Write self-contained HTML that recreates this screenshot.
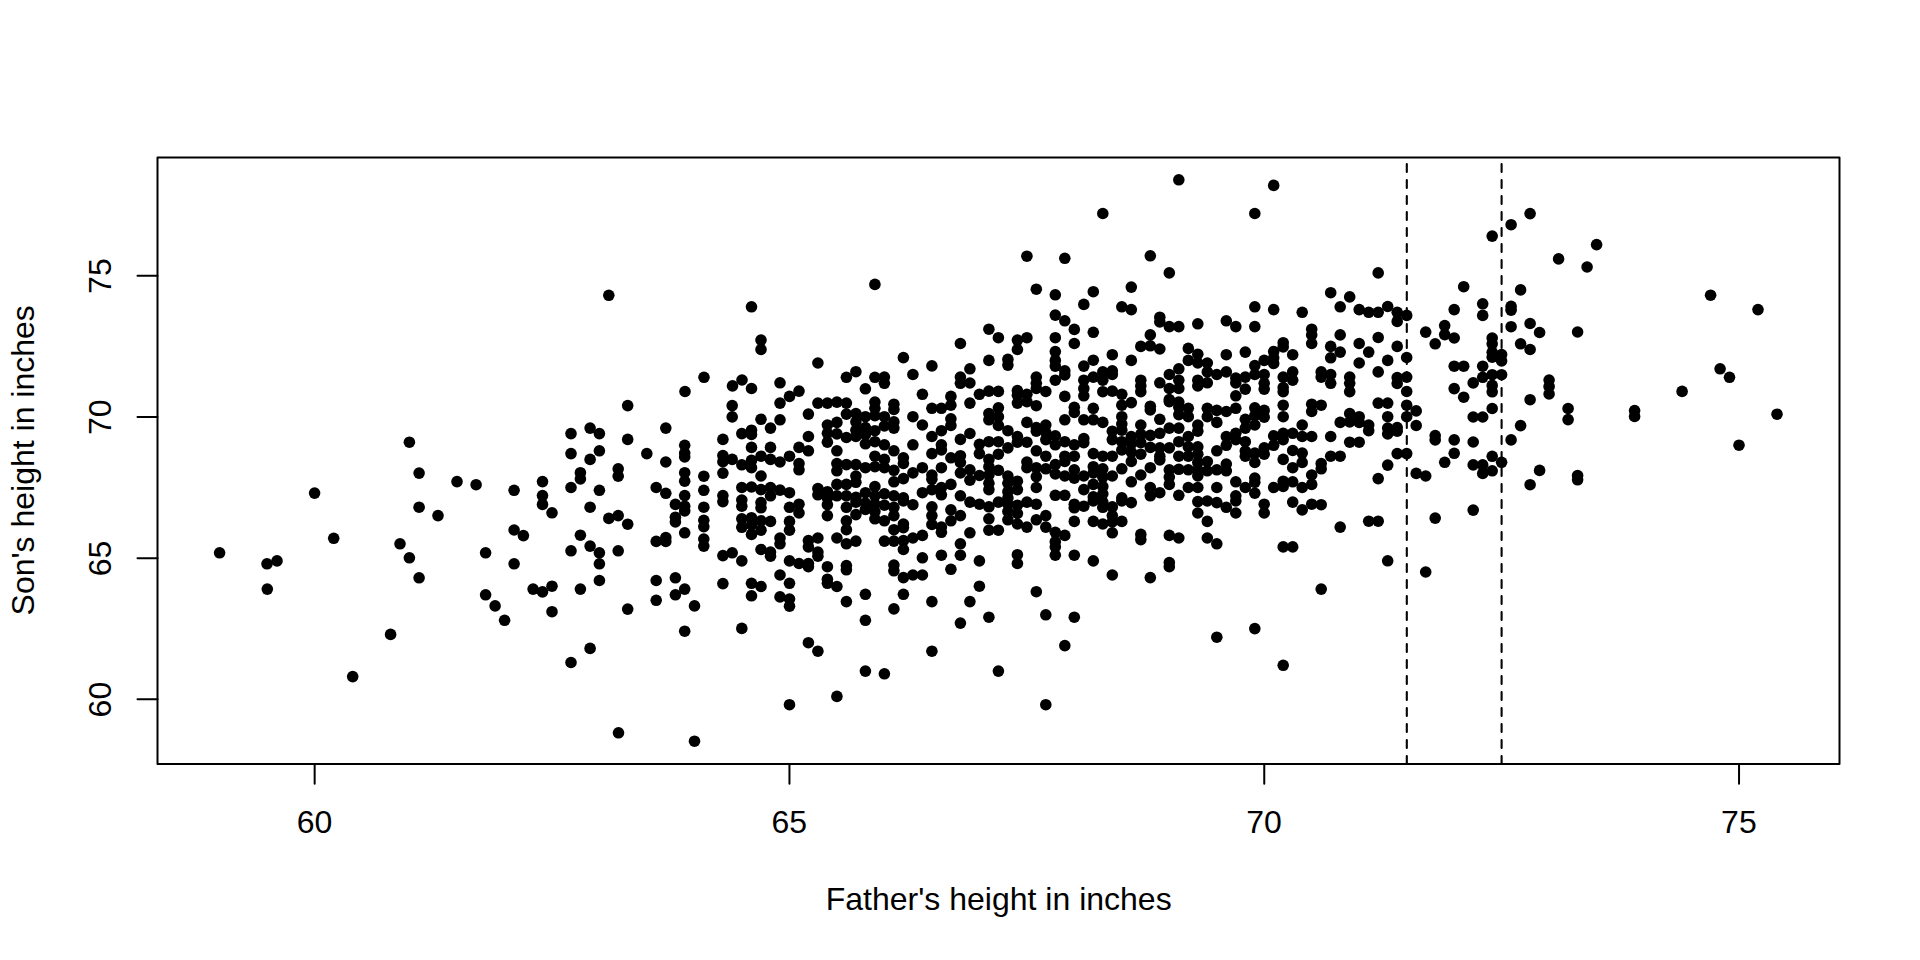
<!DOCTYPE html>
<html><head><meta charset="utf-8"><style>
html,body{margin:0;padding:0;background:#fff;}
svg{display:block;}
text{font-family:"Liberation Sans",sans-serif;font-size:32px;fill:#000;}
</style></head><body>
<svg width="1920" height="960" viewBox="0 0 1920 960">
<rect x="0" y="0" width="1920" height="960" fill="#fff"/>
<g stroke="#000" stroke-width="1.8" fill="none">
<rect x="157.5" y="157.4" width="1682" height="606.6" stroke-width="2" stroke-linejoin="round"/>
<path d="M314.66 764V783.8M789.45 764V783.8M1264.25 764V783.8M1739.04 764V783.8" stroke-width="2" stroke-linecap="round"/>
<path d="M157.5 275.8H137.5M157.5 416.97H137.5M157.5 558.13H137.5M157.5 699.3H137.5" stroke-width="2" stroke-linecap="round"/>
<path d="M1406.8 764V157.4M1501.6 764V157.4" stroke-width="2.1" stroke-dasharray="8 8" stroke-linecap="round"/>
</g>
<g text-anchor="middle">
<text x="314.5" y="833" font-size="32.6">60</text>
<text x="789.3" y="833" font-size="32.6">65</text>
<text x="1264.1" y="833" font-size="32.6">70</text>
<text x="1738.9" y="833" font-size="32.6">75</text>
<text x="998.7" y="910" font-size="32.2">Father's height in inches</text>
<text transform="translate(110.8,276.1) rotate(-90)" font-size="32.6">75</text>
<text transform="translate(110.8,417.2) rotate(-90)" font-size="32.6">70</text>
<text transform="translate(110.8,558.4) rotate(-90)" font-size="32.6">65</text>
<text transform="translate(110.8,699.6) rotate(-90)" font-size="32.6">60</text>
<text transform="translate(34.4,460.3) rotate(-90)" font-size="32.3">Son's height in inches</text>
</g>
<g fill="#000"><circle cx="608.8" cy="295.3" r="5.8"/><circle cx="409.4" cy="442.2" r="5.8"/><circle cx="419.1" cy="473.1" r="5.8"/><circle cx="314.6" cy="493.1" r="5.8"/><circle cx="419.1" cy="507.2" r="5.8"/><circle cx="438.0" cy="515.6" r="5.8"/><circle cx="333.7" cy="538.3" r="5.8"/><circle cx="400.0" cy="543.8" r="5.8"/><circle cx="219.6" cy="552.8" r="5.8"/><circle cx="267.0" cy="563.8" r="5.8"/><circle cx="277.0" cy="560.9" r="5.8"/><circle cx="267.3" cy="589.1" r="5.8"/><circle cx="409.4" cy="557.8" r="5.8"/><circle cx="419.1" cy="577.8" r="5.8"/><circle cx="390.6" cy="634.4" r="5.8"/><circle cx="352.7" cy="676.6" r="5.8"/><circle cx="457.0" cy="481.6" r="5.8"/><circle cx="476.1" cy="484.7" r="5.8"/><circle cx="514.1" cy="490.3" r="5.8"/><circle cx="514.1" cy="530.0" r="5.8"/><circle cx="523.4" cy="535.6" r="5.8"/><circle cx="542.5" cy="481.6" r="5.8"/><circle cx="542.5" cy="495.6" r="5.8"/><circle cx="542.5" cy="504.4" r="5.8"/><circle cx="552.0" cy="512.8" r="5.8"/><circle cx="571.0" cy="433.6" r="5.8"/><circle cx="571.0" cy="453.6" r="5.8"/><circle cx="571.0" cy="487.5" r="5.8"/><circle cx="580.4" cy="472.7" r="5.8"/><circle cx="580.4" cy="478.9" r="5.8"/><circle cx="580.4" cy="535.2" r="5.8"/><circle cx="590.1" cy="428.1" r="5.8"/><circle cx="590.1" cy="459.4" r="5.8"/><circle cx="590.1" cy="507.2" r="5.8"/><circle cx="590.1" cy="546.1" r="5.8"/><circle cx="599.4" cy="433.6" r="5.8"/><circle cx="599.4" cy="450.8" r="5.8"/><circle cx="599.4" cy="490.3" r="5.8"/><circle cx="608.8" cy="518.4" r="5.8"/><circle cx="618.2" cy="468.8" r="5.8"/><circle cx="618.2" cy="476.2" r="5.8"/><circle cx="618.2" cy="515.6" r="5.8"/><circle cx="627.7" cy="405.6" r="5.8"/><circle cx="627.7" cy="439.4" r="5.8"/><circle cx="627.7" cy="524.2" r="5.8"/><circle cx="646.8" cy="453.6" r="5.8"/><circle cx="656.2" cy="487.5" r="5.8"/><circle cx="656.2" cy="541.4" r="5.8"/><circle cx="665.8" cy="428.1" r="5.8"/><circle cx="665.8" cy="462.0" r="5.8"/><circle cx="665.8" cy="493.3" r="5.8"/><circle cx="665.8" cy="537.5" r="5.8"/><circle cx="665.8" cy="541.4" r="5.8"/><circle cx="675.4" cy="504.4" r="5.8"/><circle cx="675.4" cy="517.2" r="5.8"/><circle cx="675.4" cy="521.9" r="5.8"/><circle cx="684.7" cy="445.3" r="5.8"/><circle cx="684.7" cy="453.1" r="5.8"/><circle cx="684.7" cy="457.0" r="5.8"/><circle cx="684.7" cy="472.7" r="5.8"/><circle cx="684.7" cy="481.2" r="5.8"/><circle cx="684.7" cy="495.6" r="5.8"/><circle cx="684.7" cy="506.2" r="5.8"/><circle cx="684.7" cy="510.9" r="5.8"/><circle cx="684.7" cy="532.8" r="5.8"/><circle cx="703.8" cy="476.2" r="5.8"/><circle cx="703.8" cy="490.3" r="5.8"/><circle cx="703.8" cy="507.2" r="5.8"/><circle cx="703.8" cy="520.3" r="5.8"/><circle cx="703.8" cy="526.6" r="5.8"/><circle cx="703.8" cy="539.1" r="5.8"/><circle cx="703.8" cy="546.1" r="5.8"/><circle cx="722.9" cy="439.4" r="5.8"/><circle cx="722.9" cy="455.5" r="5.8"/><circle cx="722.9" cy="461.7" r="5.8"/><circle cx="722.9" cy="473.1" r="5.8"/><circle cx="722.9" cy="495.6" r="5.8"/><circle cx="722.9" cy="501.6" r="5.8"/><circle cx="732.2" cy="405.6" r="5.8"/><circle cx="732.2" cy="416.9" r="5.8"/><circle cx="732.2" cy="459.4" r="5.8"/><circle cx="741.8" cy="433.6" r="5.8"/><circle cx="741.8" cy="464.8" r="5.8"/><circle cx="741.8" cy="487.5" r="5.8"/><circle cx="741.8" cy="500.0" r="5.8"/><circle cx="741.8" cy="506.2" r="5.8"/><circle cx="741.8" cy="518.8" r="5.8"/><circle cx="741.8" cy="527.3" r="5.8"/><circle cx="485.6" cy="552.8" r="5.8"/><circle cx="571.0" cy="550.8" r="5.8"/><circle cx="599.4" cy="552.8" r="5.8"/><circle cx="618.2" cy="550.8" r="5.8"/><circle cx="722.9" cy="555.6" r="5.8"/><circle cx="732.2" cy="552.8" r="5.8"/><circle cx="741.8" cy="560.9" r="5.8"/><circle cx="514.1" cy="563.8" r="5.8"/><circle cx="599.4" cy="563.8" r="5.8"/><circle cx="599.4" cy="580.5" r="5.8"/><circle cx="656.2" cy="580.5" r="5.8"/><circle cx="675.4" cy="577.8" r="5.8"/><circle cx="722.9" cy="583.6" r="5.8"/><circle cx="533.1" cy="589.1" r="5.8"/><circle cx="542.5" cy="591.9" r="5.8"/><circle cx="552.0" cy="586.2" r="5.8"/><circle cx="580.4" cy="589.1" r="5.8"/><circle cx="485.6" cy="594.8" r="5.8"/><circle cx="495.1" cy="605.9" r="5.8"/><circle cx="504.6" cy="620.3" r="5.8"/><circle cx="552.0" cy="611.7" r="5.8"/><circle cx="627.7" cy="609.1" r="5.8"/><circle cx="656.2" cy="600.3" r="5.8"/><circle cx="675.4" cy="594.8" r="5.8"/><circle cx="684.7" cy="589.1" r="5.8"/><circle cx="694.5" cy="605.9" r="5.8"/><circle cx="684.7" cy="631.2" r="5.8"/><circle cx="741.8" cy="628.4" r="5.8"/><circle cx="590.1" cy="648.4" r="5.8"/><circle cx="571.0" cy="662.5" r="5.8"/><circle cx="618.5" cy="732.8" r="5.8"/><circle cx="694.5" cy="741.2" r="5.8"/><circle cx="874.9" cy="284.4" r="5.8"/><circle cx="1026.9" cy="256.2" r="5.8"/><circle cx="1178.8" cy="179.8" r="5.8"/><circle cx="1273.7" cy="185.4" r="5.8"/><circle cx="1102.8" cy="213.5" r="5.8"/><circle cx="1254.8" cy="213.5" r="5.8"/><circle cx="1064.8" cy="258.3" r="5.8"/><circle cx="1150.3" cy="255.8" r="5.8"/><circle cx="1169.3" cy="272.9" r="5.8"/><circle cx="1378.2" cy="272.9" r="5.8"/><circle cx="1036.3" cy="289.2" r="5.8"/><circle cx="1055.3" cy="294.8" r="5.8"/><circle cx="1093.3" cy="291.7" r="5.8"/><circle cx="1131.3" cy="287.1" r="5.8"/><circle cx="1330.7" cy="292.7" r="5.8"/><circle cx="1349.7" cy="296.9" r="5.8"/><circle cx="1530.1" cy="213.6" r="5.8"/><circle cx="1511.1" cy="224.7" r="5.8"/><circle cx="1492.2" cy="236.1" r="5.8"/><circle cx="1596.6" cy="244.6" r="5.8"/><circle cx="1558.6" cy="258.9" r="5.8"/><circle cx="1587.1" cy="267.0" r="5.8"/><circle cx="1463.7" cy="286.7" r="5.8"/><circle cx="1520.6" cy="289.9" r="5.8"/><circle cx="1710.6" cy="295.2" r="5.8"/><circle cx="751.5" cy="306.8" r="5.8"/><circle cx="761.0" cy="340.1" r="5.8"/><circle cx="761.0" cy="349.5" r="5.8"/><circle cx="817.9" cy="363.0" r="5.8"/><circle cx="704.0" cy="377.3" r="5.8"/><circle cx="685.0" cy="391.5" r="5.8"/><circle cx="732.5" cy="385.9" r="5.8"/><circle cx="742.0" cy="380.0" r="5.8"/><circle cx="751.5" cy="388.5" r="5.8"/><circle cx="780.0" cy="382.8" r="5.8"/><circle cx="799.0" cy="391.1" r="5.8"/><circle cx="789.5" cy="396.4" r="5.8"/><circle cx="988.9" cy="329.2" r="5.8"/><circle cx="998.4" cy="337.7" r="5.8"/><circle cx="1026.9" cy="337.7" r="5.8"/><circle cx="1017.4" cy="340.1" r="5.8"/><circle cx="1017.4" cy="349.5" r="5.8"/><circle cx="960.4" cy="343.5" r="5.8"/><circle cx="903.4" cy="357.6" r="5.8"/><circle cx="988.9" cy="360.4" r="5.8"/><circle cx="1007.9" cy="359.4" r="5.8"/><circle cx="1007.9" cy="365.1" r="5.8"/><circle cx="855.9" cy="371.7" r="5.8"/><circle cx="846.4" cy="377.3" r="5.8"/><circle cx="874.9" cy="377.3" r="5.8"/><circle cx="884.4" cy="377.1" r="5.8"/><circle cx="884.4" cy="383.3" r="5.8"/><circle cx="865.4" cy="388.8" r="5.8"/><circle cx="912.9" cy="374.5" r="5.8"/><circle cx="931.9" cy="365.9" r="5.8"/><circle cx="969.9" cy="368.8" r="5.8"/><circle cx="960.4" cy="377.1" r="5.8"/><circle cx="960.4" cy="383.3" r="5.8"/><circle cx="969.9" cy="383.0" r="5.8"/><circle cx="922.4" cy="394.3" r="5.8"/><circle cx="950.9" cy="396.4" r="5.8"/><circle cx="979.4" cy="394.3" r="5.8"/><circle cx="988.9" cy="391.1" r="5.8"/><circle cx="998.4" cy="391.4" r="5.8"/><circle cx="1017.4" cy="390.6" r="5.8"/><circle cx="1017.4" cy="395.3" r="5.8"/><circle cx="1026.9" cy="394.3" r="5.8"/><circle cx="1083.8" cy="304.4" r="5.8"/><circle cx="1121.8" cy="306.8" r="5.8"/><circle cx="1131.3" cy="309.6" r="5.8"/><circle cx="1055.3" cy="315.1" r="5.8"/><circle cx="1064.8" cy="320.8" r="5.8"/><circle cx="1074.3" cy="329.4" r="5.8"/><circle cx="1093.3" cy="332.3" r="5.8"/><circle cx="1055.3" cy="337.7" r="5.8"/><circle cx="1074.3" cy="343.5" r="5.8"/><circle cx="1159.8" cy="317.2" r="5.8"/><circle cx="1159.8" cy="321.9" r="5.8"/><circle cx="1169.3" cy="326.6" r="5.8"/><circle cx="1178.8" cy="326.6" r="5.8"/><circle cx="1197.8" cy="323.8" r="5.8"/><circle cx="1226.3" cy="320.8" r="5.8"/><circle cx="1150.3" cy="334.9" r="5.8"/><circle cx="1140.8" cy="346.4" r="5.8"/><circle cx="1150.3" cy="345.8" r="5.8"/><circle cx="1159.8" cy="349.0" r="5.8"/><circle cx="1055.3" cy="351.6" r="5.8"/><circle cx="1055.3" cy="360.4" r="5.8"/><circle cx="1055.3" cy="366.1" r="5.8"/><circle cx="1064.8" cy="370.8" r="5.8"/><circle cx="1064.8" cy="375.0" r="5.8"/><circle cx="1055.3" cy="380.2" r="5.8"/><circle cx="1112.3" cy="354.7" r="5.8"/><circle cx="1093.3" cy="360.2" r="5.8"/><circle cx="1083.8" cy="366.1" r="5.8"/><circle cx="1131.3" cy="360.4" r="5.8"/><circle cx="1188.3" cy="348.4" r="5.8"/><circle cx="1197.8" cy="354.2" r="5.8"/><circle cx="1188.3" cy="360.4" r="5.8"/><circle cx="1197.8" cy="363.0" r="5.8"/><circle cx="1207.3" cy="363.0" r="5.8"/><circle cx="1207.3" cy="371.9" r="5.8"/><circle cx="1226.3" cy="354.7" r="5.8"/><circle cx="1226.3" cy="371.9" r="5.8"/><circle cx="1216.8" cy="374.5" r="5.8"/><circle cx="1178.8" cy="368.8" r="5.8"/><circle cx="1169.3" cy="374.5" r="5.8"/><circle cx="1178.8" cy="380.2" r="5.8"/><circle cx="1178.8" cy="388.5" r="5.8"/><circle cx="1169.3" cy="388.5" r="5.8"/><circle cx="1159.8" cy="382.8" r="5.8"/><circle cx="1197.8" cy="380.2" r="5.8"/><circle cx="1197.8" cy="385.9" r="5.8"/><circle cx="1207.3" cy="382.8" r="5.8"/><circle cx="1140.8" cy="380.2" r="5.8"/><circle cx="1140.8" cy="385.9" r="5.8"/><circle cx="1140.8" cy="391.7" r="5.8"/><circle cx="1102.8" cy="371.9" r="5.8"/><circle cx="1102.8" cy="380.2" r="5.8"/><circle cx="1102.8" cy="391.7" r="5.8"/><circle cx="1112.3" cy="370.8" r="5.8"/><circle cx="1112.3" cy="374.5" r="5.8"/><circle cx="1093.3" cy="377.1" r="5.8"/><circle cx="1083.8" cy="380.2" r="5.8"/><circle cx="1083.8" cy="388.5" r="5.8"/><circle cx="1083.8" cy="395.8" r="5.8"/><circle cx="1112.3" cy="391.1" r="5.8"/><circle cx="1121.8" cy="394.3" r="5.8"/><circle cx="1036.3" cy="377.1" r="5.8"/><circle cx="1036.3" cy="383.3" r="5.8"/><circle cx="1036.3" cy="388.5" r="5.8"/><circle cx="1045.8" cy="391.5" r="5.8"/><circle cx="1064.8" cy="396.4" r="5.8"/><circle cx="1169.3" cy="399.5" r="5.8"/><circle cx="1254.8" cy="306.8" r="5.8"/><circle cx="1273.7" cy="309.6" r="5.8"/><circle cx="1302.2" cy="312.3" r="5.8"/><circle cx="1340.2" cy="306.8" r="5.8"/><circle cx="1359.2" cy="309.6" r="5.8"/><circle cx="1368.7" cy="312.3" r="5.8"/><circle cx="1378.2" cy="312.3" r="5.8"/><circle cx="1387.7" cy="306.5" r="5.8"/><circle cx="1397.2" cy="312.3" r="5.8"/><circle cx="1397.2" cy="321.4" r="5.8"/><circle cx="1406.7" cy="315.4" r="5.8"/><circle cx="1425.7" cy="332.1" r="5.8"/><circle cx="1235.8" cy="326.6" r="5.8"/><circle cx="1254.8" cy="326.6" r="5.8"/><circle cx="1311.7" cy="329.2" r="5.8"/><circle cx="1311.7" cy="334.9" r="5.8"/><circle cx="1311.7" cy="343.5" r="5.8"/><circle cx="1340.2" cy="334.9" r="5.8"/><circle cx="1359.2" cy="343.5" r="5.8"/><circle cx="1378.2" cy="337.5" r="5.8"/><circle cx="1397.2" cy="346.4" r="5.8"/><circle cx="1368.7" cy="352.1" r="5.8"/><circle cx="1387.7" cy="360.4" r="5.8"/><circle cx="1406.7" cy="357.5" r="5.8"/><circle cx="1359.2" cy="363.0" r="5.8"/><circle cx="1378.2" cy="371.9" r="5.8"/><circle cx="1397.2" cy="377.5" r="5.8"/><circle cx="1397.2" cy="383.5" r="5.8"/><circle cx="1406.7" cy="377.1" r="5.8"/><circle cx="1406.7" cy="391.5" r="5.8"/><circle cx="1330.7" cy="346.4" r="5.8"/><circle cx="1330.7" cy="357.8" r="5.8"/><circle cx="1340.2" cy="352.1" r="5.8"/><circle cx="1321.2" cy="371.9" r="5.8"/><circle cx="1321.2" cy="377.1" r="5.8"/><circle cx="1330.7" cy="374.5" r="5.8"/><circle cx="1330.7" cy="383.3" r="5.8"/><circle cx="1349.7" cy="377.1" r="5.8"/><circle cx="1349.7" cy="383.3" r="5.8"/><circle cx="1349.7" cy="391.7" r="5.8"/><circle cx="1245.3" cy="352.1" r="5.8"/><circle cx="1283.2" cy="342.7" r="5.8"/><circle cx="1283.2" cy="346.9" r="5.8"/><circle cx="1273.7" cy="351.6" r="5.8"/><circle cx="1273.7" cy="357.8" r="5.8"/><circle cx="1273.7" cy="363.5" r="5.8"/><circle cx="1292.7" cy="354.7" r="5.8"/><circle cx="1264.2" cy="360.4" r="5.8"/><circle cx="1254.8" cy="365.6" r="5.8"/><circle cx="1254.8" cy="374.5" r="5.8"/><circle cx="1245.3" cy="377.1" r="5.8"/><circle cx="1235.8" cy="378.0" r="5.8"/><circle cx="1235.8" cy="383.0" r="5.8"/><circle cx="1264.2" cy="374.5" r="5.8"/><circle cx="1264.2" cy="383.3" r="5.8"/><circle cx="1264.2" cy="389.1" r="5.8"/><circle cx="1245.3" cy="389.1" r="5.8"/><circle cx="1283.2" cy="377.1" r="5.8"/><circle cx="1292.7" cy="371.9" r="5.8"/><circle cx="1292.7" cy="380.2" r="5.8"/><circle cx="1283.2" cy="387.5" r="5.8"/><circle cx="1283.2" cy="391.7" r="5.8"/><circle cx="1235.8" cy="395.8" r="5.8"/><circle cx="1454.2" cy="309.6" r="5.8"/><circle cx="1482.7" cy="303.8" r="5.8"/><circle cx="1482.7" cy="315.4" r="5.8"/><circle cx="1511.1" cy="306.4" r="5.8"/><circle cx="1511.1" cy="310.2" r="5.8"/><circle cx="1758.0" cy="309.6" r="5.8"/><circle cx="1444.7" cy="325.6" r="5.8"/><circle cx="1444.7" cy="334.6" r="5.8"/><circle cx="1454.2" cy="338.0" r="5.8"/><circle cx="1435.2" cy="343.8" r="5.8"/><circle cx="1511.1" cy="326.7" r="5.8"/><circle cx="1530.1" cy="323.5" r="5.8"/><circle cx="1539.6" cy="332.5" r="5.8"/><circle cx="1577.6" cy="332.0" r="5.8"/><circle cx="1492.2" cy="338.0" r="5.8"/><circle cx="1492.2" cy="343.8" r="5.8"/><circle cx="1492.2" cy="352.3" r="5.8"/><circle cx="1492.2" cy="357.2" r="5.8"/><circle cx="1501.6" cy="354.5" r="5.8"/><circle cx="1501.6" cy="360.9" r="5.8"/><circle cx="1520.6" cy="343.8" r="5.8"/><circle cx="1530.1" cy="349.5" r="5.8"/><circle cx="1454.2" cy="366.2" r="5.8"/><circle cx="1463.7" cy="366.2" r="5.8"/><circle cx="1482.7" cy="366.2" r="5.8"/><circle cx="1482.7" cy="377.3" r="5.8"/><circle cx="1492.2" cy="374.7" r="5.8"/><circle cx="1501.6" cy="374.7" r="5.8"/><circle cx="1473.2" cy="382.9" r="5.8"/><circle cx="1454.2" cy="388.6" r="5.8"/><circle cx="1463.7" cy="397.2" r="5.8"/><circle cx="1492.2" cy="385.4" r="5.8"/><circle cx="1492.2" cy="391.8" r="5.8"/><circle cx="1549.1" cy="380.1" r="5.8"/><circle cx="1549.1" cy="386.5" r="5.8"/><circle cx="1549.1" cy="394.0" r="5.8"/><circle cx="1530.1" cy="399.7" r="5.8"/><circle cx="1720.1" cy="368.8" r="5.8"/><circle cx="1729.5" cy="377.3" r="5.8"/><circle cx="1682.1" cy="391.4" r="5.8"/><circle cx="1492.2" cy="408.5" r="5.8"/><circle cx="1473.2" cy="417.0" r="5.8"/><circle cx="1482.7" cy="417.0" r="5.8"/><circle cx="1520.6" cy="425.6" r="5.8"/><circle cx="1568.1" cy="408.5" r="5.8"/><circle cx="1568.1" cy="419.6" r="5.8"/><circle cx="1634.6" cy="410.6" r="5.8"/><circle cx="1634.6" cy="416.4" r="5.8"/><circle cx="1777.0" cy="414.2" r="5.8"/><circle cx="1435.2" cy="435.6" r="5.8"/><circle cx="1435.2" cy="439.9" r="5.8"/><circle cx="1454.2" cy="439.9" r="5.8"/><circle cx="1473.2" cy="442.0" r="5.8"/><circle cx="1511.1" cy="439.9" r="5.8"/><circle cx="1739.0" cy="445.2" r="5.8"/><circle cx="1454.2" cy="453.3" r="5.8"/><circle cx="1444.7" cy="462.3" r="5.8"/><circle cx="1473.2" cy="464.9" r="5.8"/><circle cx="1482.7" cy="464.9" r="5.8"/><circle cx="1482.7" cy="473.4" r="5.8"/><circle cx="1492.2" cy="456.3" r="5.8"/><circle cx="1492.2" cy="470.8" r="5.8"/><circle cx="1501.6" cy="462.3" r="5.8"/><circle cx="1539.6" cy="470.4" r="5.8"/><circle cx="1530.1" cy="484.7" r="5.8"/><circle cx="1577.6" cy="475.5" r="5.8"/><circle cx="1577.6" cy="479.8" r="5.8"/><circle cx="751.5" cy="430.2" r="5.8"/><circle cx="751.5" cy="434.4" r="5.8"/><circle cx="751.5" cy="447.4" r="5.8"/><circle cx="751.5" cy="460.4" r="5.8"/><circle cx="751.5" cy="467.7" r="5.8"/><circle cx="751.5" cy="487.0" r="5.8"/><circle cx="761.0" cy="419.3" r="5.8"/><circle cx="761.0" cy="456.2" r="5.8"/><circle cx="761.0" cy="476.0" r="5.8"/><circle cx="761.0" cy="489.6" r="5.8"/><circle cx="770.5" cy="428.1" r="5.8"/><circle cx="770.5" cy="447.4" r="5.8"/><circle cx="770.5" cy="459.4" r="5.8"/><circle cx="770.5" cy="487.5" r="5.8"/><circle cx="770.5" cy="495.8" r="5.8"/><circle cx="780.0" cy="403.1" r="5.8"/><circle cx="780.0" cy="419.8" r="5.8"/><circle cx="780.0" cy="462.0" r="5.8"/><circle cx="780.0" cy="490.1" r="5.8"/><circle cx="789.5" cy="456.2" r="5.8"/><circle cx="789.5" cy="492.7" r="5.8"/><circle cx="799.0" cy="447.4" r="5.8"/><circle cx="799.0" cy="463.5" r="5.8"/><circle cx="799.0" cy="469.8" r="5.8"/><circle cx="808.4" cy="414.1" r="5.8"/><circle cx="808.4" cy="436.5" r="5.8"/><circle cx="808.4" cy="450.8" r="5.8"/><circle cx="817.9" cy="403.1" r="5.8"/><circle cx="817.9" cy="488.5" r="5.8"/><circle cx="817.9" cy="494.8" r="5.8"/><circle cx="827.4" cy="403.1" r="5.8"/><circle cx="827.4" cy="425.0" r="5.8"/><circle cx="827.4" cy="433.3" r="5.8"/><circle cx="827.4" cy="442.2" r="5.8"/><circle cx="827.4" cy="491.7" r="5.8"/><circle cx="827.4" cy="497.9" r="5.8"/><circle cx="836.9" cy="402.1" r="5.8"/><circle cx="836.9" cy="422.4" r="5.8"/><circle cx="836.9" cy="433.9" r="5.8"/><circle cx="836.9" cy="450.8" r="5.8"/><circle cx="836.9" cy="463.5" r="5.8"/><circle cx="836.9" cy="470.8" r="5.8"/><circle cx="836.9" cy="484.4" r="5.8"/><circle cx="836.9" cy="495.8" r="5.8"/><circle cx="846.4" cy="403.1" r="5.8"/><circle cx="846.4" cy="414.1" r="5.8"/><circle cx="846.4" cy="437.5" r="5.8"/><circle cx="846.4" cy="464.6" r="5.8"/><circle cx="846.4" cy="484.4" r="5.8"/><circle cx="846.4" cy="495.8" r="5.8"/><circle cx="855.9" cy="413.5" r="5.8"/><circle cx="855.9" cy="421.9" r="5.8"/><circle cx="855.9" cy="430.2" r="5.8"/><circle cx="855.9" cy="436.5" r="5.8"/><circle cx="855.9" cy="464.6" r="5.8"/><circle cx="855.9" cy="476.0" r="5.8"/><circle cx="855.9" cy="482.3" r="5.8"/><circle cx="855.9" cy="497.4" r="5.8"/><circle cx="865.4" cy="416.7" r="5.8"/><circle cx="865.4" cy="427.6" r="5.8"/><circle cx="865.4" cy="434.4" r="5.8"/><circle cx="865.4" cy="443.8" r="5.8"/><circle cx="865.4" cy="467.7" r="5.8"/><circle cx="865.4" cy="492.7" r="5.8"/><circle cx="874.9" cy="402.1" r="5.8"/><circle cx="874.9" cy="408.3" r="5.8"/><circle cx="874.9" cy="415.6" r="5.8"/><circle cx="874.9" cy="430.7" r="5.8"/><circle cx="874.9" cy="441.7" r="5.8"/><circle cx="874.9" cy="456.2" r="5.8"/><circle cx="874.9" cy="466.7" r="5.8"/><circle cx="874.9" cy="486.5" r="5.8"/><circle cx="874.9" cy="495.8" r="5.8"/><circle cx="884.4" cy="416.7" r="5.8"/><circle cx="884.4" cy="426.0" r="5.8"/><circle cx="884.4" cy="444.8" r="5.8"/><circle cx="884.4" cy="459.4" r="5.8"/><circle cx="884.4" cy="467.7" r="5.8"/><circle cx="884.4" cy="493.8" r="5.8"/><circle cx="893.9" cy="404.2" r="5.8"/><circle cx="893.9" cy="409.4" r="5.8"/><circle cx="893.9" cy="421.9" r="5.8"/><circle cx="893.9" cy="428.1" r="5.8"/><circle cx="893.9" cy="450.8" r="5.8"/><circle cx="893.9" cy="470.3" r="5.8"/><circle cx="893.9" cy="481.8" r="5.8"/><circle cx="893.9" cy="495.8" r="5.8"/><circle cx="903.4" cy="457.8" r="5.8"/><circle cx="903.4" cy="463.5" r="5.8"/><circle cx="903.4" cy="478.6" r="5.8"/><circle cx="903.4" cy="497.9" r="5.8"/><circle cx="912.9" cy="416.7" r="5.8"/><circle cx="912.9" cy="444.8" r="5.8"/><circle cx="912.9" cy="472.9" r="5.8"/><circle cx="922.4" cy="425.0" r="5.8"/><circle cx="922.4" cy="467.7" r="5.8"/><circle cx="922.4" cy="492.7" r="5.8"/><circle cx="931.9" cy="408.3" r="5.8"/><circle cx="931.9" cy="436.5" r="5.8"/><circle cx="931.9" cy="453.6" r="5.8"/><circle cx="931.9" cy="475.0" r="5.8"/><circle cx="931.9" cy="479.2" r="5.8"/><circle cx="931.9" cy="489.6" r="5.8"/><circle cx="941.4" cy="408.3" r="5.8"/><circle cx="941.4" cy="430.7" r="5.8"/><circle cx="941.4" cy="444.8" r="5.8"/><circle cx="941.4" cy="450.0" r="5.8"/><circle cx="941.4" cy="467.7" r="5.8"/><circle cx="941.4" cy="487.5" r="5.8"/><circle cx="941.4" cy="494.8" r="5.8"/><circle cx="950.9" cy="405.2" r="5.8"/><circle cx="950.9" cy="418.8" r="5.8"/><circle cx="950.9" cy="425.5" r="5.8"/><circle cx="950.9" cy="457.8" r="5.8"/><circle cx="950.9" cy="484.4" r="5.8"/><circle cx="960.4" cy="439.4" r="5.8"/><circle cx="960.4" cy="455.7" r="5.8"/><circle cx="960.4" cy="462.5" r="5.8"/><circle cx="960.4" cy="472.9" r="5.8"/><circle cx="960.4" cy="495.8" r="5.8"/><circle cx="969.9" cy="403.1" r="5.8"/><circle cx="969.9" cy="433.5" r="5.8"/><circle cx="969.9" cy="469.8" r="5.8"/><circle cx="969.9" cy="480.2" r="5.8"/><circle cx="979.4" cy="444.3" r="5.8"/><circle cx="979.4" cy="453.6" r="5.8"/><circle cx="979.4" cy="475.5" r="5.8"/><circle cx="988.9" cy="413.5" r="5.8"/><circle cx="988.9" cy="419.8" r="5.8"/><circle cx="988.9" cy="441.7" r="5.8"/><circle cx="988.9" cy="459.4" r="5.8"/><circle cx="988.9" cy="466.7" r="5.8"/><circle cx="988.9" cy="475.0" r="5.8"/><circle cx="988.9" cy="483.3" r="5.8"/><circle cx="988.9" cy="489.6" r="5.8"/><circle cx="998.4" cy="407.8" r="5.8"/><circle cx="998.4" cy="416.7" r="5.8"/><circle cx="998.4" cy="425.5" r="5.8"/><circle cx="998.4" cy="441.7" r="5.8"/><circle cx="998.4" cy="454.2" r="5.8"/><circle cx="998.4" cy="470.3" r="5.8"/><circle cx="1007.9" cy="430.7" r="5.8"/><circle cx="1007.9" cy="447.9" r="5.8"/><circle cx="1007.9" cy="476.0" r="5.8"/><circle cx="1007.9" cy="483.3" r="5.8"/><circle cx="1007.9" cy="491.7" r="5.8"/><circle cx="1017.4" cy="403.1" r="5.8"/><circle cx="1017.4" cy="436.5" r="5.8"/><circle cx="1017.4" cy="442.2" r="5.8"/><circle cx="1017.4" cy="481.2" r="5.8"/><circle cx="1017.4" cy="489.6" r="5.8"/><circle cx="1026.9" cy="401.6" r="5.8"/><circle cx="1026.9" cy="422.4" r="5.8"/><circle cx="1026.9" cy="442.2" r="5.8"/><circle cx="1026.9" cy="462.0" r="5.8"/><circle cx="1026.9" cy="467.7" r="5.8"/><circle cx="1036.3" cy="405.7" r="5.8"/><circle cx="1036.3" cy="427.6" r="5.8"/><circle cx="1036.3" cy="431.2" r="5.8"/><circle cx="1036.3" cy="450.8" r="5.8"/><circle cx="1036.3" cy="467.7" r="5.8"/><circle cx="1036.3" cy="476.6" r="5.8"/><circle cx="1036.3" cy="487.5" r="5.8"/><circle cx="1045.8" cy="425.0" r="5.8"/><circle cx="1045.8" cy="432.3" r="5.8"/><circle cx="1045.8" cy="439.6" r="5.8"/><circle cx="1045.8" cy="456.2" r="5.8"/><circle cx="1045.8" cy="468.8" r="5.8"/><circle cx="1055.3" cy="435.9" r="5.8"/><circle cx="1055.3" cy="444.8" r="5.8"/><circle cx="1055.3" cy="464.6" r="5.8"/><circle cx="1055.3" cy="474.0" r="5.8"/><circle cx="1055.3" cy="495.3" r="5.8"/><circle cx="1064.8" cy="419.8" r="5.8"/><circle cx="1064.8" cy="441.7" r="5.8"/><circle cx="1064.8" cy="456.2" r="5.8"/><circle cx="1064.8" cy="461.5" r="5.8"/><circle cx="1064.8" cy="476.0" r="5.8"/><circle cx="1064.8" cy="495.3" r="5.8"/><circle cx="1074.3" cy="407.3" r="5.8"/><circle cx="1074.3" cy="412.5" r="5.8"/><circle cx="1074.3" cy="444.8" r="5.8"/><circle cx="1074.3" cy="456.2" r="5.8"/><circle cx="1074.3" cy="469.8" r="5.8"/><circle cx="1074.3" cy="478.1" r="5.8"/><circle cx="1083.8" cy="419.8" r="5.8"/><circle cx="1083.8" cy="438.5" r="5.8"/><circle cx="1083.8" cy="442.7" r="5.8"/><circle cx="1083.8" cy="476.0" r="5.8"/><circle cx="1083.8" cy="489.6" r="5.8"/><circle cx="1093.3" cy="408.3" r="5.8"/><circle cx="1093.3" cy="419.8" r="5.8"/><circle cx="1093.3" cy="453.6" r="5.8"/><circle cx="1093.3" cy="466.7" r="5.8"/><circle cx="1093.3" cy="472.9" r="5.8"/><circle cx="1093.3" cy="484.4" r="5.8"/><circle cx="1093.3" cy="496.9" r="5.8"/><circle cx="1102.8" cy="422.4" r="5.8"/><circle cx="1102.8" cy="456.2" r="5.8"/><circle cx="1102.8" cy="468.8" r="5.8"/><circle cx="1102.8" cy="477.1" r="5.8"/><circle cx="1102.8" cy="486.5" r="5.8"/><circle cx="1102.8" cy="493.8" r="5.8"/><circle cx="1112.3" cy="431.2" r="5.8"/><circle cx="1112.3" cy="439.6" r="5.8"/><circle cx="1112.3" cy="456.2" r="5.8"/><circle cx="1112.3" cy="476.0" r="5.8"/><circle cx="1121.8" cy="405.2" r="5.8"/><circle cx="1121.8" cy="416.7" r="5.8"/><circle cx="1121.8" cy="424.0" r="5.8"/><circle cx="1121.8" cy="430.2" r="5.8"/><circle cx="1121.8" cy="441.7" r="5.8"/><circle cx="1121.8" cy="450.0" r="5.8"/><circle cx="1121.8" cy="468.8" r="5.8"/><circle cx="1121.8" cy="497.9" r="5.8"/><circle cx="1131.3" cy="402.6" r="5.8"/><circle cx="1131.3" cy="436.5" r="5.8"/><circle cx="1131.3" cy="443.8" r="5.8"/><circle cx="1131.3" cy="452.1" r="5.8"/><circle cx="1131.3" cy="461.5" r="5.8"/><circle cx="1131.3" cy="481.8" r="5.8"/><circle cx="1140.8" cy="425.0" r="5.8"/><circle cx="1140.8" cy="434.4" r="5.8"/><circle cx="1140.8" cy="442.7" r="5.8"/><circle cx="1140.8" cy="454.2" r="5.8"/><circle cx="1140.8" cy="475.0" r="5.8"/><circle cx="1150.3" cy="406.2" r="5.8"/><circle cx="1150.3" cy="435.4" r="5.8"/><circle cx="1150.3" cy="447.4" r="5.8"/><circle cx="1150.3" cy="467.7" r="5.8"/><circle cx="1150.3" cy="487.5" r="5.8"/><circle cx="1150.3" cy="495.8" r="5.8"/><circle cx="1159.8" cy="419.3" r="5.8"/><circle cx="1159.8" cy="433.3" r="5.8"/><circle cx="1159.8" cy="447.9" r="5.8"/><circle cx="1159.8" cy="456.2" r="5.8"/><circle cx="1159.8" cy="459.9" r="5.8"/><circle cx="1159.8" cy="492.7" r="5.8"/><circle cx="1169.3" cy="401.6" r="5.8"/><circle cx="1169.3" cy="428.1" r="5.8"/><circle cx="1169.3" cy="447.9" r="5.8"/><circle cx="1169.3" cy="469.8" r="5.8"/><circle cx="1169.3" cy="477.1" r="5.8"/><circle cx="1169.3" cy="484.4" r="5.8"/><circle cx="1178.8" cy="402.1" r="5.8"/><circle cx="1178.8" cy="407.3" r="5.8"/><circle cx="1178.8" cy="414.6" r="5.8"/><circle cx="1178.8" cy="428.1" r="5.8"/><circle cx="1178.8" cy="441.7" r="5.8"/><circle cx="1178.8" cy="456.2" r="5.8"/><circle cx="1178.8" cy="469.3" r="5.8"/><circle cx="1178.8" cy="495.3" r="5.8"/><circle cx="1188.3" cy="408.3" r="5.8"/><circle cx="1188.3" cy="416.7" r="5.8"/><circle cx="1188.3" cy="436.5" r="5.8"/><circle cx="1188.3" cy="446.9" r="5.8"/><circle cx="1188.3" cy="456.2" r="5.8"/><circle cx="1188.3" cy="469.8" r="5.8"/><circle cx="1188.3" cy="487.5" r="5.8"/><circle cx="1197.8" cy="425.0" r="5.8"/><circle cx="1197.8" cy="431.2" r="5.8"/><circle cx="1197.8" cy="446.9" r="5.8"/><circle cx="1197.8" cy="454.2" r="5.8"/><circle cx="1197.8" cy="462.5" r="5.8"/><circle cx="1197.8" cy="469.8" r="5.8"/><circle cx="1197.8" cy="476.0" r="5.8"/><circle cx="1197.8" cy="487.5" r="5.8"/><circle cx="1207.3" cy="408.3" r="5.8"/><circle cx="1207.3" cy="416.7" r="5.8"/><circle cx="1207.3" cy="461.5" r="5.8"/><circle cx="1207.3" cy="470.8" r="5.8"/><circle cx="1216.8" cy="410.4" r="5.8"/><circle cx="1216.8" cy="422.4" r="5.8"/><circle cx="1216.8" cy="450.8" r="5.8"/><circle cx="1216.8" cy="469.8" r="5.8"/><circle cx="1216.8" cy="487.5" r="5.8"/><circle cx="1226.3" cy="411.5" r="5.8"/><circle cx="1226.3" cy="436.5" r="5.8"/><circle cx="1226.3" cy="445.3" r="5.8"/><circle cx="1226.3" cy="464.1" r="5.8"/><circle cx="1226.3" cy="470.8" r="5.8"/><circle cx="1235.8" cy="408.3" r="5.8"/><circle cx="1235.8" cy="433.3" r="5.8"/><circle cx="1235.8" cy="439.6" r="5.8"/><circle cx="1235.8" cy="481.8" r="5.8"/><circle cx="1235.8" cy="495.8" r="5.8"/><circle cx="1245.3" cy="419.3" r="5.8"/><circle cx="1245.3" cy="428.1" r="5.8"/><circle cx="1245.3" cy="441.7" r="5.8"/><circle cx="1245.3" cy="451.0" r="5.8"/><circle cx="1245.3" cy="456.2" r="5.8"/><circle cx="1245.3" cy="487.5" r="5.8"/><circle cx="1254.8" cy="407.8" r="5.8"/><circle cx="1254.8" cy="415.6" r="5.8"/><circle cx="1254.8" cy="425.0" r="5.8"/><circle cx="1254.8" cy="453.1" r="5.8"/><circle cx="1254.8" cy="462.5" r="5.8"/><circle cx="1254.8" cy="478.1" r="5.8"/><circle cx="1254.8" cy="482.3" r="5.8"/><circle cx="1254.8" cy="493.2" r="5.8"/><circle cx="1264.2" cy="410.4" r="5.8"/><circle cx="1264.2" cy="417.2" r="5.8"/><circle cx="1264.2" cy="447.9" r="5.8"/><circle cx="1264.2" cy="454.2" r="5.8"/><circle cx="1273.7" cy="435.9" r="5.8"/><circle cx="1273.7" cy="445.3" r="5.8"/><circle cx="1273.7" cy="487.5" r="5.8"/><circle cx="1283.2" cy="405.2" r="5.8"/><circle cx="1283.2" cy="416.7" r="5.8"/><circle cx="1283.2" cy="433.3" r="5.8"/><circle cx="1283.2" cy="439.6" r="5.8"/><circle cx="1283.2" cy="459.4" r="5.8"/><circle cx="1283.2" cy="481.2" r="5.8"/><circle cx="1283.2" cy="486.5" r="5.8"/><circle cx="1292.7" cy="433.3" r="5.8"/><circle cx="1292.7" cy="450.5" r="5.8"/><circle cx="1292.7" cy="467.7" r="5.8"/><circle cx="1292.7" cy="481.8" r="5.8"/><circle cx="1302.2" cy="425.0" r="5.8"/><circle cx="1302.2" cy="436.5" r="5.8"/><circle cx="1302.2" cy="453.1" r="5.8"/><circle cx="1302.2" cy="462.5" r="5.8"/><circle cx="1302.2" cy="487.5" r="5.8"/><circle cx="1311.7" cy="404.2" r="5.8"/><circle cx="1311.7" cy="411.5" r="5.8"/><circle cx="1311.7" cy="436.5" r="5.8"/><circle cx="1311.7" cy="475.0" r="5.8"/><circle cx="1311.7" cy="484.4" r="5.8"/><circle cx="1321.2" cy="405.2" r="5.8"/><circle cx="1321.2" cy="463.5" r="5.8"/><circle cx="1321.2" cy="468.8" r="5.8"/><circle cx="1330.7" cy="436.5" r="5.8"/><circle cx="1330.7" cy="456.2" r="5.8"/><circle cx="1340.2" cy="422.4" r="5.8"/><circle cx="1340.2" cy="456.2" r="5.8"/><circle cx="1349.7" cy="413.5" r="5.8"/><circle cx="1349.7" cy="421.9" r="5.8"/><circle cx="1349.7" cy="442.2" r="5.8"/><circle cx="1359.2" cy="416.7" r="5.8"/><circle cx="1359.2" cy="422.4" r="5.8"/><circle cx="1359.2" cy="442.2" r="5.8"/><circle cx="1368.7" cy="425.0" r="5.8"/><circle cx="1368.7" cy="430.7" r="5.8"/><circle cx="1378.2" cy="403.1" r="5.8"/><circle cx="1378.2" cy="478.6" r="5.8"/><circle cx="1387.7" cy="403.1" r="5.8"/><circle cx="1387.7" cy="416.7" r="5.8"/><circle cx="1387.7" cy="428.1" r="5.8"/><circle cx="1387.7" cy="433.9" r="5.8"/><circle cx="1387.7" cy="465.1" r="5.8"/><circle cx="1397.2" cy="427.6" r="5.8"/><circle cx="1397.2" cy="431.2" r="5.8"/><circle cx="1397.2" cy="453.6" r="5.8"/><circle cx="1406.7" cy="405.2" r="5.8"/><circle cx="1406.7" cy="416.7" r="5.8"/><circle cx="1406.7" cy="453.6" r="5.8"/><circle cx="1416.2" cy="410.9" r="5.8"/><circle cx="1416.2" cy="425.5" r="5.8"/><circle cx="1416.2" cy="473.4" r="5.8"/><circle cx="1425.7" cy="476.0" r="5.8"/><circle cx="751.5" cy="517.7" r="5.8"/><circle cx="751.5" cy="525.0" r="5.8"/><circle cx="751.5" cy="534.4" r="5.8"/><circle cx="751.5" cy="583.3" r="5.8"/><circle cx="751.5" cy="595.8" r="5.8"/><circle cx="761.0" cy="502.6" r="5.8"/><circle cx="761.0" cy="507.8" r="5.8"/><circle cx="761.0" cy="520.8" r="5.8"/><circle cx="761.0" cy="530.2" r="5.8"/><circle cx="761.0" cy="549.5" r="5.8"/><circle cx="761.0" cy="586.5" r="5.8"/><circle cx="770.5" cy="521.4" r="5.8"/><circle cx="770.5" cy="552.1" r="5.8"/><circle cx="770.5" cy="556.2" r="5.8"/><circle cx="780.0" cy="538.0" r="5.8"/><circle cx="780.0" cy="543.8" r="5.8"/><circle cx="780.0" cy="575.0" r="5.8"/><circle cx="780.0" cy="596.9" r="5.8"/><circle cx="789.5" cy="507.3" r="5.8"/><circle cx="789.5" cy="521.4" r="5.8"/><circle cx="789.5" cy="530.2" r="5.8"/><circle cx="789.5" cy="560.9" r="5.8"/><circle cx="789.5" cy="583.3" r="5.8"/><circle cx="789.5" cy="599.0" r="5.8"/><circle cx="799.0" cy="504.2" r="5.8"/><circle cx="799.0" cy="513.0" r="5.8"/><circle cx="799.0" cy="563.5" r="5.8"/><circle cx="808.4" cy="540.6" r="5.8"/><circle cx="808.4" cy="546.9" r="5.8"/><circle cx="808.4" cy="563.5" r="5.8"/><circle cx="808.4" cy="566.7" r="5.8"/><circle cx="817.9" cy="538.0" r="5.8"/><circle cx="817.9" cy="552.1" r="5.8"/><circle cx="817.9" cy="556.2" r="5.8"/><circle cx="827.4" cy="504.7" r="5.8"/><circle cx="827.4" cy="515.6" r="5.8"/><circle cx="827.4" cy="566.7" r="5.8"/><circle cx="827.4" cy="579.2" r="5.8"/><circle cx="827.4" cy="583.3" r="5.8"/><circle cx="836.9" cy="538.0" r="5.8"/><circle cx="836.9" cy="586.5" r="5.8"/><circle cx="846.4" cy="507.3" r="5.8"/><circle cx="846.4" cy="520.8" r="5.8"/><circle cx="846.4" cy="529.7" r="5.8"/><circle cx="846.4" cy="543.8" r="5.8"/><circle cx="846.4" cy="565.6" r="5.8"/><circle cx="846.4" cy="569.8" r="5.8"/><circle cx="855.9" cy="502.1" r="5.8"/><circle cx="855.9" cy="514.6" r="5.8"/><circle cx="855.9" cy="541.1" r="5.8"/><circle cx="865.4" cy="503.1" r="5.8"/><circle cx="865.4" cy="509.4" r="5.8"/><circle cx="865.4" cy="594.3" r="5.8"/><circle cx="874.9" cy="504.2" r="5.8"/><circle cx="874.9" cy="511.5" r="5.8"/><circle cx="874.9" cy="518.8" r="5.8"/><circle cx="884.4" cy="505.2" r="5.8"/><circle cx="884.4" cy="520.8" r="5.8"/><circle cx="884.4" cy="541.1" r="5.8"/><circle cx="893.9" cy="507.3" r="5.8"/><circle cx="893.9" cy="515.6" r="5.8"/><circle cx="893.9" cy="529.7" r="5.8"/><circle cx="893.9" cy="541.1" r="5.8"/><circle cx="893.9" cy="565.1" r="5.8"/><circle cx="893.9" cy="570.8" r="5.8"/><circle cx="903.4" cy="501.0" r="5.8"/><circle cx="903.4" cy="524.0" r="5.8"/><circle cx="903.4" cy="527.6" r="5.8"/><circle cx="903.4" cy="540.6" r="5.8"/><circle cx="903.4" cy="549.5" r="5.8"/><circle cx="903.4" cy="577.6" r="5.8"/><circle cx="903.4" cy="594.3" r="5.8"/><circle cx="912.9" cy="504.7" r="5.8"/><circle cx="912.9" cy="538.0" r="5.8"/><circle cx="912.9" cy="575.0" r="5.8"/><circle cx="922.4" cy="535.4" r="5.8"/><circle cx="922.4" cy="557.8" r="5.8"/><circle cx="922.4" cy="575.0" r="5.8"/><circle cx="931.9" cy="506.8" r="5.8"/><circle cx="931.9" cy="515.6" r="5.8"/><circle cx="931.9" cy="524.5" r="5.8"/><circle cx="941.4" cy="527.1" r="5.8"/><circle cx="941.4" cy="532.3" r="5.8"/><circle cx="941.4" cy="555.2" r="5.8"/><circle cx="950.9" cy="509.9" r="5.8"/><circle cx="950.9" cy="520.8" r="5.8"/><circle cx="950.9" cy="569.3" r="5.8"/><circle cx="960.4" cy="515.6" r="5.8"/><circle cx="960.4" cy="543.8" r="5.8"/><circle cx="960.4" cy="555.2" r="5.8"/><circle cx="969.9" cy="502.1" r="5.8"/><circle cx="969.9" cy="532.8" r="5.8"/><circle cx="979.4" cy="504.2" r="5.8"/><circle cx="979.4" cy="560.9" r="5.8"/><circle cx="979.4" cy="586.2" r="5.8"/><circle cx="988.9" cy="506.8" r="5.8"/><circle cx="988.9" cy="518.8" r="5.8"/><circle cx="988.9" cy="530.2" r="5.8"/><circle cx="998.4" cy="502.1" r="5.8"/><circle cx="998.4" cy="530.2" r="5.8"/><circle cx="1007.9" cy="504.2" r="5.8"/><circle cx="1007.9" cy="511.5" r="5.8"/><circle cx="1007.9" cy="519.8" r="5.8"/><circle cx="1017.4" cy="505.2" r="5.8"/><circle cx="1017.4" cy="513.5" r="5.8"/><circle cx="1017.4" cy="524.0" r="5.8"/><circle cx="1017.4" cy="554.7" r="5.8"/><circle cx="1017.4" cy="563.5" r="5.8"/><circle cx="1026.9" cy="502.1" r="5.8"/><circle cx="1026.9" cy="527.1" r="5.8"/><circle cx="1036.3" cy="504.2" r="5.8"/><circle cx="1036.3" cy="519.8" r="5.8"/><circle cx="1036.3" cy="591.7" r="5.8"/><circle cx="1045.8" cy="515.6" r="5.8"/><circle cx="1045.8" cy="527.1" r="5.8"/><circle cx="1055.3" cy="532.3" r="5.8"/><circle cx="1055.3" cy="541.7" r="5.8"/><circle cx="1055.3" cy="546.9" r="5.8"/><circle cx="1055.3" cy="555.2" r="5.8"/><circle cx="1064.8" cy="535.4" r="5.8"/><circle cx="1074.3" cy="504.2" r="5.8"/><circle cx="1074.3" cy="507.8" r="5.8"/><circle cx="1074.3" cy="521.4" r="5.8"/><circle cx="1074.3" cy="555.2" r="5.8"/><circle cx="1083.8" cy="506.2" r="5.8"/><circle cx="1093.3" cy="501.0" r="5.8"/><circle cx="1093.3" cy="521.4" r="5.8"/><circle cx="1093.3" cy="560.9" r="5.8"/><circle cx="1102.8" cy="502.1" r="5.8"/><circle cx="1102.8" cy="507.3" r="5.8"/><circle cx="1102.8" cy="524.0" r="5.8"/><circle cx="1112.3" cy="506.8" r="5.8"/><circle cx="1112.3" cy="515.6" r="5.8"/><circle cx="1112.3" cy="521.9" r="5.8"/><circle cx="1112.3" cy="532.8" r="5.8"/><circle cx="1112.3" cy="575.0" r="5.8"/><circle cx="1121.8" cy="501.0" r="5.8"/><circle cx="1121.8" cy="521.4" r="5.8"/><circle cx="1131.3" cy="502.6" r="5.8"/><circle cx="1140.8" cy="534.4" r="5.8"/><circle cx="1140.8" cy="539.6" r="5.8"/><circle cx="1150.3" cy="577.6" r="5.8"/><circle cx="1169.3" cy="535.4" r="5.8"/><circle cx="1169.3" cy="562.5" r="5.8"/><circle cx="1169.3" cy="566.7" r="5.8"/><circle cx="1178.8" cy="538.0" r="5.8"/><circle cx="1197.8" cy="501.6" r="5.8"/><circle cx="1197.8" cy="513.0" r="5.8"/><circle cx="1207.3" cy="501.0" r="5.8"/><circle cx="1207.3" cy="521.4" r="5.8"/><circle cx="1207.3" cy="538.0" r="5.8"/><circle cx="1216.8" cy="502.6" r="5.8"/><circle cx="1216.8" cy="543.8" r="5.8"/><circle cx="1226.3" cy="507.3" r="5.8"/><circle cx="1235.8" cy="501.0" r="5.8"/><circle cx="1235.8" cy="513.0" r="5.8"/><circle cx="1264.2" cy="504.2" r="5.8"/><circle cx="1264.2" cy="513.0" r="5.8"/><circle cx="1283.2" cy="546.9" r="5.8"/><circle cx="1292.7" cy="502.1" r="5.8"/><circle cx="1292.7" cy="546.9" r="5.8"/><circle cx="1302.2" cy="509.9" r="5.8"/><circle cx="1311.7" cy="504.2" r="5.8"/><circle cx="1321.2" cy="504.7" r="5.8"/><circle cx="1321.2" cy="589.1" r="5.8"/><circle cx="1340.2" cy="527.1" r="5.8"/><circle cx="1368.7" cy="521.2" r="5.8"/><circle cx="1378.2" cy="521.2" r="5.8"/><circle cx="1435.2" cy="518.1" r="5.8"/><circle cx="1473.2" cy="510.1" r="5.8"/><circle cx="1387.7" cy="560.8" r="5.8"/><circle cx="1425.7" cy="572.0" r="5.8"/><circle cx="789.5" cy="606.2" r="5.8"/><circle cx="846.4" cy="601.6" r="5.8"/><circle cx="931.9" cy="601.6" r="5.8"/><circle cx="969.9" cy="601.6" r="5.8"/><circle cx="893.9" cy="608.9" r="5.8"/><circle cx="865.4" cy="620.3" r="5.8"/><circle cx="960.4" cy="623.1" r="5.8"/><circle cx="988.9" cy="617.2" r="5.8"/><circle cx="1045.8" cy="614.8" r="5.8"/><circle cx="808.4" cy="642.7" r="5.8"/><circle cx="817.9" cy="651.2" r="5.8"/><circle cx="931.9" cy="651.2" r="5.8"/><circle cx="865.4" cy="671.1" r="5.8"/><circle cx="884.4" cy="673.8" r="5.8"/><circle cx="998.4" cy="671.1" r="5.8"/><circle cx="836.9" cy="696.4" r="5.8"/><circle cx="789.5" cy="704.7" r="5.8"/><circle cx="1045.8" cy="704.7" r="5.8"/><circle cx="1074.3" cy="617.2" r="5.8"/><circle cx="1064.8" cy="645.6" r="5.8"/><circle cx="1216.8" cy="637.2" r="5.8"/><circle cx="1254.8" cy="628.6" r="5.8"/><circle cx="1283.2" cy="665.3" r="5.8"/><circle cx="1007.9" cy="498.0" r="5.8"/><circle cx="1150.3" cy="410.0" r="5.8"/></g>
</svg>
</body></html>
